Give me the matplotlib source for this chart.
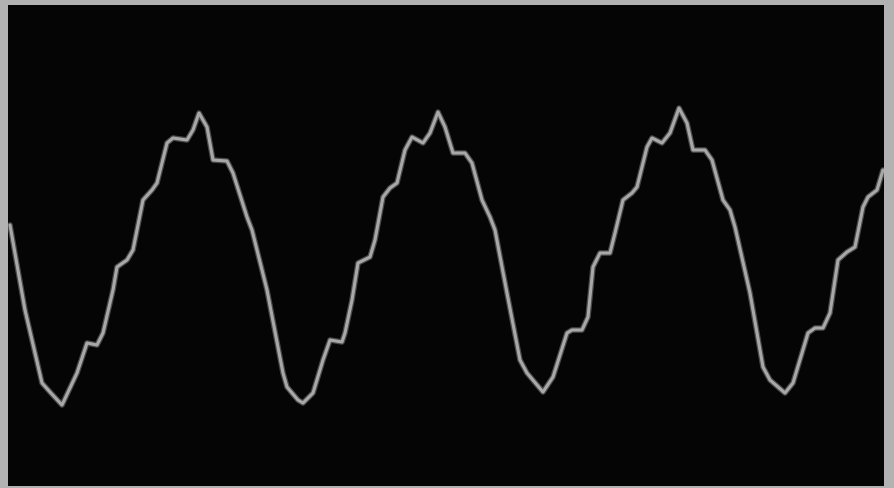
import numpy as np
import matplotlib
matplotlib.use("Agg")
import matplotlib.pyplot as plt

# trace (horizontal position, vertical deflection, screen units)
t = [10, 25, 42, 50, 62, 77, 87, 97, 103, 113, 117, 127, 133, 143, 152, 157, 167, 173,
     187, 193, 199, 207, 213, 227, 233, 247, 252, 267, 283, 287, 298,
     303, 313, 323, 330, 342, 345, 352, 358, 370, 375, 383, 390, 397, 405, 412,
     423, 430, 438, 445, 453, 465, 472, 482, 490, 495, 507, 520, 527, 543,
     553, 567, 572, 582, 588, 593, 600, 610, 615, 623, 632, 637, 647, 652,
     662, 670, 679, 687, 693, 705, 712, 723, 730, 735, 750, 763, 770, 785,
     793, 808, 815, 823, 830, 838, 847, 855, 863, 868, 877, 883]
v = [225, 310, 383, 392, 405, 373, 343, 345, 333, 290, 267, 260, 250, 200, 190, 183, 143, 138,
     140, 130, 113, 127, 160, 161, 173, 217, 230, 290, 373, 387, 400,
     403, 393, 360, 340, 342, 333, 300, 263, 257, 240, 197, 188, 183, 150, 137,
     143, 133, 112, 127, 153, 153, 163, 200, 217, 230, 293, 360, 373, 392,
     377, 333, 330, 330, 317, 267, 253, 253, 233, 200, 193, 187, 147, 138,
     143, 133, 108, 123, 150, 150, 160, 200, 210, 227, 293, 367, 380, 393,
     383, 333, 328, 328, 313, 260, 252, 247, 207, 197, 190, 170]

fig = plt.figure(figsize=(8.95, 4.88), dpi=100, facecolor="#b2b2b2")
ax = fig.add_axes([8 / 895, 2 / 488, 876 / 895, 481 / 488])
ax.set_facecolor("#050505")
ax.set_xlim(8, 884)
ax.set_ylim(486, 5)
ax.set_xticks([])
ax.set_yticks([])
for s in ax.spines.values():
    s.set_visible(False)

# glow + core of the beam
ax.plot(t, v, color="#4a4a4a", lw=4, solid_joinstyle="round", solid_capstyle="round")
ax.plot(t, v, color="#a8a8a8", lw=2.2, solid_joinstyle="round", solid_capstyle="round")

fig.savefig("out.png", dpi=100, facecolor=fig.get_facecolor())
